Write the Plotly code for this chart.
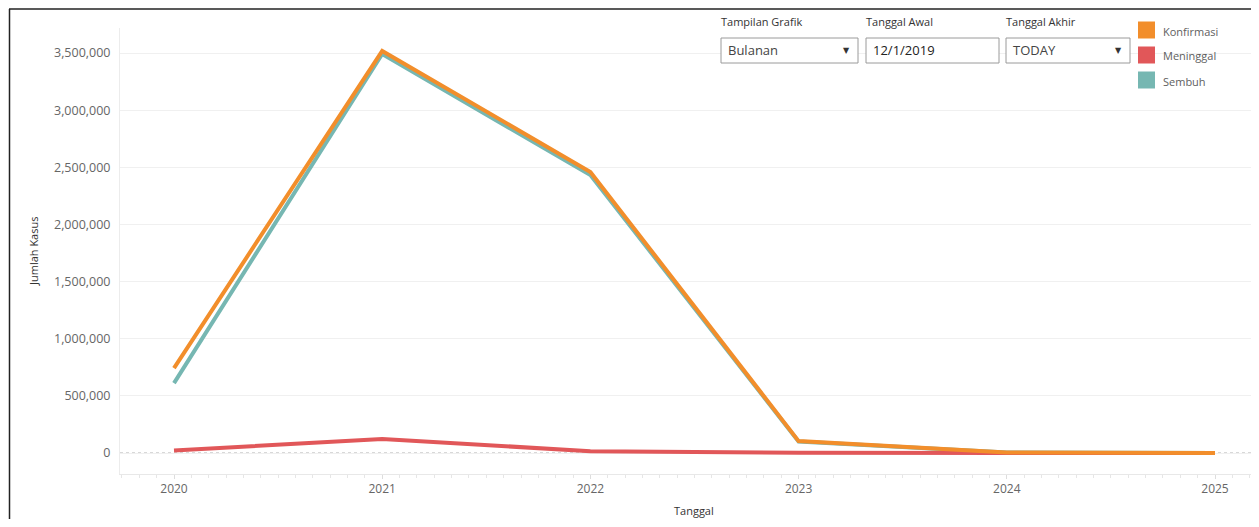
import plotly.graph_objects as go

# ---- data ----
years = [2020, 2021, 2022, 2023, 2024, 2025]
konfirmasi = [743000, 3518000, 2459000, 104000, 5000, 500]
meninggal = [22000, 122000, 16000, 1500, 100, 10]
sembuh = [611000, 3491000, 2432000, 100000, 5000, 500]

series_names = ["Konfirmasi", "Meninggal", "Sembuh"]
series_colors = ["#F28E2B", "#E15759", "#76B7B2"]

y_ticks = [0, 500000, 1000000, 1500000, 2000000, 2500000, 3000000, 3500000]

# page body has an 8px margin; lay the figure out in reference-pixel terms
OFF = 8
W, H = 1259 - 2 * OFF, 527 - 2 * OFF
ML, MT = 120 - OFF, 28 - OFF
MB = H - (474 - OFF)
PLOT_RIGHT_REF = 1259 - OFF  # last visible reference pixel inside the figure
MR = 0
PW, PH = W - ML - MR, H - MT - MB

FONT = "Open Sans"
GREY = "#666666"

# x-axis calibration (reference pixels): 2020 at 174, 2025 at 1215
X2020, X2025 = 174.0, 1215.0
PX_PER_YEAR = (X2025 - X2020) / 5
x_hi = 2020 + (PLOT_RIGHT_REF - X2020) / PX_PER_YEAR


def px(x):
    return (x - OFF - ML) / PW


def py(y):
    return (H - MB - (y - OFF)) / PH


fig = go.Figure()

data = {"Konfirmasi": konfirmasi, "Meninggal": meninggal, "Sembuh": sembuh}
color_of = dict(zip(series_names, series_colors))
# draw order: Sembuh under, Meninggal, Konfirmasi on top
for name in ["Sembuh", "Meninggal", "Konfirmasi"]:
    fig.add_trace(go.Scatter(
        x=years, y=data[name], mode="lines", name=name,
        line=dict(color=color_of[name], width=4, shape="linear"),
        showlegend=False,
        hovertemplate="%{x}: %{y:,}<extra>" + name + "</extra>",
    ))

shapes = []
annotations = []

# zero line dotted
shapes.append(dict(type="line", xref="paper", yref="y", x0=0, x1=1, y0=0, y1=0,
                   line=dict(color="#b0b0b0", width=1, dash="dot"), layer="below"))

# outer frame (top and left)
shapes.append(dict(type="line", xref="paper", yref="paper", x0=px(9), x1=px(1259),
                   y0=py(9), y1=py(9), line=dict(color="#222222", width=1.5)))
shapes.append(dict(type="line", xref="paper", yref="paper", x0=px(9.5), x1=px(9.5),
                   y0=py(9), y1=py(527), line=dict(color="#222222", width=1.5)))

# legend (colour squares + labels)
leg_y = [30, 55, 80]
for name, yy in zip(series_names, leg_y):
    shapes.append(dict(type="rect", xref="paper", yref="paper",
                       x0=px(1138), x1=px(1155), y0=py(yy - 8.5), y1=py(yy + 8.5),
                       fillcolor=color_of[name], line=dict(width=0)))
    annotations.append(dict(text=name, xref="paper", yref="paper", x=px(1161), y=py(yy + 1),
                            xanchor="left", yanchor="middle", showarrow=False,
                            font=dict(family=FONT, size=11, color="#606060")))

# filter controls
controls = [
    ("Tampilan Grafik", "Bulanan", 721, 858, True),
    ("Tanggal Awal", "12/1/2019", 866, 999, False),
    ("Tanggal Akhir", "TODAY", 1006, 1130, True),
]
for label, value, x0, x1, arrow in controls:
    annotations.append(dict(text=label, xref="paper", yref="paper", x=px(x0 - 2), y=py(22),
                            xanchor="left", yanchor="middle", showarrow=False,
                            font=dict(family=FONT, size=11, color="#333333")))
    shapes.append(dict(type="rect", xref="paper", yref="paper",
                       x0=px(x0), x1=px(x1), y0=py(38), y1=py(63),
                       fillcolor="white", line=dict(color="#9a9a9a", width=1)))
    annotations.append(dict(text=value, xref="paper", yref="paper", x=px(x0 + 5), y=py(50.5),
                            xanchor="left", yanchor="middle", showarrow=False,
                            font=dict(family=FONT, size=13,
                                      color="#222222" if not arrow else "#444444")))
    if arrow:
        annotations.append(dict(text="▼", xref="paper", yref="paper", x=px(x1 - 12), y=py(50),
                                xanchor="center", yanchor="middle", showarrow=False,
                                font=dict(family="DejaVu Sans", size=8, color="#333333")))

# axis titles
annotations.append(dict(text="Jumlah Kasus", xref="paper", yref="paper", x=px(33), y=py(252),
                        xanchor="center", yanchor="middle", showarrow=False, textangle=-90,
                        font=dict(family=FONT, size=11, color="#333333")))
annotations.append(dict(text="Tanggal", xref="paper", yref="paper", x=px(694), y=py(511),
                        xanchor="center", yanchor="middle", showarrow=False,
                        font=dict(family=FONT, size=11, color="#333333")))

fig.update_layout(
    width=W, height=H,
    margin=dict(l=ML, r=MR, t=MT, b=MB, pad=0),
    paper_bgcolor="white", plot_bgcolor="white",
    showlegend=False,
    shapes=shapes, annotations=annotations,
    font=dict(family=FONT, size=11, color=GREY),
)

fig.update_xaxes(
    range=[2020 - (X2020 - 120) / PX_PER_YEAR, x_hi],
    tickmode="array", tickvals=years, ticktext=[str(y) for y in years],
    tickfont=dict(family=FONT, size=12, color=GREY),
    showgrid=False, zeroline=False,
    showline=True, linecolor="#e8e8e8", linewidth=1,
    ticks="outside", ticklen=4, tickcolor="#dddddd",
    minor=dict(dtick=1 / 12, tick0=2020, ticks="outside", ticklen=3, tickcolor="#e6e6e6", showgrid=False),
    fixedrange=True,
)
fig.update_yaxes(
    range=[-183750, 3718750],
    tickmode="array", tickvals=y_ticks, ticktext=[f"{v:,}" for v in y_ticks],
    tickfont=dict(family=FONT, size=12.5, color=GREY),
    showgrid=True, gridcolor="#f0f0f0", gridwidth=1,
    zeroline=False, showline=True, linecolor="#ececec", linewidth=1,
    ticks="", ticklabelstandoff=6,
    fixedrange=True,
)

fig.write_html("out.html")
